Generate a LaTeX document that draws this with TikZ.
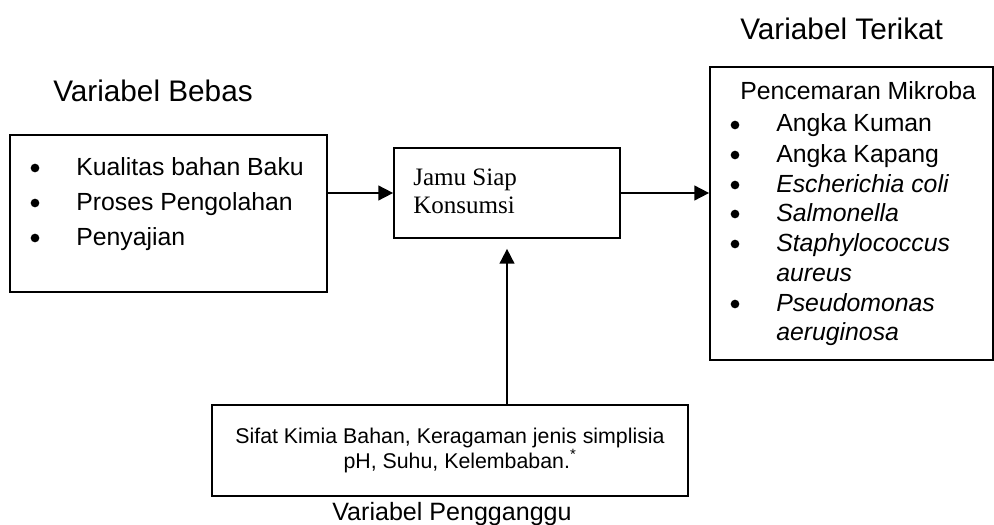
\documentclass[tikz,border=0pt]{standalone}
\usepackage{fontspec}
\setmainfont{Liberation Sans}
\newfontfamily\serifjamu{Liberation Serif}
\usetikzlibrary{positioning,arrows.meta}

\begin{document}
\begin{tikzpicture}[x=0.75pt,y=-0.75pt,>={Triangle[length=11pt,width=11pt]},
  box/.style={draw,line width=1.3pt,inner sep=0pt},
  itemtxt/.style={anchor=base west,inner sep=0pt,font=\fontsize{18.6}{22}\selectfont},
  judul/.style={anchor=base west,inner sep=0pt,font=\fontsize{22.3}{26}\selectfont},
  dot/.style={circle,fill,inner sep=0pt,minimum size=6.5pt},
  panah/.style={->,line width=1.3pt}]
\useasboundingbox (0,0) rectangle (994,524);
% ---- boxes ----
\node[box,minimum width=237.75pt,minimum height=117.75pt] (bebas) at (168.5,213.5) {};
\node[box,minimum width=169.5pt,minimum height=67.5pt] (jamu) at (507,193) {};
\node[box,minimum width=212.25pt,minimum height=219.75pt] (terikat) at (851.5,213.5) {};
\node[box,minimum width=357pt,minimum height=68.25pt] (ganggu) at (450,450.5) {};
% ---- titles ----
\node[judul] (jbebas) at (53,102) {Variabel Bebas};
\node[judul] (jterikat) at (740,40) {Variabel Terikat};
\node[anchor=base,inner sep=0pt,font=\fontsize{18.8}{22}\selectfont] (jganggu) at (452,520) {Variabel Pengganggu};
% ---- variabel bebas ----
\foreach \txt [count=\i] in {Kualitas bahan Baku, Proses Pengolahan, Penyajian} {
  \node[dot] (bdot\i) at (35,{175+35*(\i-1)-7}) {};
  \node[itemtxt] (bitem\i) at (76,{175+35*(\i-1)}) {\txt};
}
% ---- jamu ----
\node[anchor=base west,inner sep=0pt,font=\serifjamu\fontsize{18.8}{22}\selectfont] (jamu1) at (413,185) {Jamu Siap};
\node[anchor=base west,inner sep=0pt,font=\serifjamu\fontsize{18.8}{22}\selectfont] (jamu2) at (413,213) {Konsumsi};
% ---- variabel terikat ----
\node[itemtxt] (tkepala) at (740,100) {Pencemaran Mikroba};
\foreach \yy in {132,162,192,221,251,311} {\node[dot] at (735,\yy-7) {};}
\node[itemtxt] (t1) at (776,132) {Angka Kuman};
\node[itemtxt] (t2) at (776,162) {Angka Kapang};
\node[itemtxt] (t3) at (776,192) {\itshape Escherichia coli};
\node[itemtxt] (t4) at (776,221) {\itshape Salmonella};
\node[itemtxt] (t5) at (776,251) {\itshape Staphylococcus};
\node[itemtxt] (t5b) at (776,281) {\itshape aureus};
\node[itemtxt] (t6) at (776,311) {\itshape Pseudomonas};
\node[itemtxt] (t6b) at (776,340) {\itshape aeruginosa};
% ---- variabel pengganggu ----
\node[anchor=base,inner sep=0pt,font=\fontsize{16}{19}\selectfont] (g1) at (450,443) {Sifat Kimia Bahan, Keragaman jenis simplisia};
\node[anchor=base,inner sep=0pt,font=\fontsize{16}{19}\selectfont] (g2) at (460,468) {pH, Suhu, Kelembaban.\textsuperscript{*}};
% ---- arrows ----
\draw[panah] (bebas.east |- jamu.west) -- (jamu.west);
\draw[panah] (jamu.east) -- (terikat.west |- jamu.east);
\draw[panah,shorten >=7.5pt] (jamu.south |- ganggu.north) -- (jamu.south);
\end{tikzpicture}
\end{document}
